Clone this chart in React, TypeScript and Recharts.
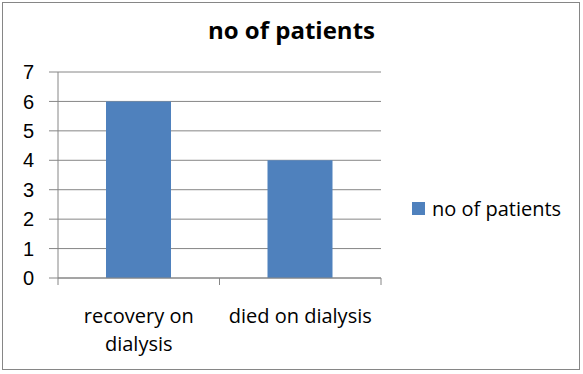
import React from 'react';
import { BarChart, Bar, XAxis, YAxis, CartesianGrid } from 'recharts';

const categories = ['recovery on dialysis', 'died on dialysis'];
const patients = [6, 4];
const yTicks = [0, 1, 2, 3, 4, 5, 6, 7];
const seriesName = 'no of patients';
const chartTitle = 'no of patients';

const data = categories.map((c, i) => ({ category: c, value: patients[i] }));

const GRID = '#868686';
const BAR = '#4F81BD';
const CAT_FONT = '"Open Sans", sans-serif';

function wrap(label: string, max: number): string[] {
  const words = label.split(' ');
  const lines: string[] = [];
  let cur = '';
  for (const w of words) {
    const next = cur ? cur + ' ' + w : w;
    if (next.length > max && cur) {
      lines.push(cur);
      cur = w;
    } else {
      cur = next;
    }
  }
  if (cur) lines.push(cur);
  return lines;
}

const XTick = (props: any) => {
  const { x, y, payload } = props;
  const half = payload && payload.offset ? payload.offset : 0;
  const lines = wrap(String(payload.value), 16);
  return (
    <g>
      {half ? (
        <>
          <line x1={x - half} x2={x - half} y1={y} y2={y + 7} stroke={GRID} />
          <line x1={x + half} x2={x + half} y1={y} y2={y + 7} stroke={GRID} />
        </>
      ) : null}
      {lines.map((l, i) => (
        <text
          key={i}
          x={x}
          y={y + 45 + i * 28}
          textAnchor="middle"
          fontFamily={CAT_FONT}
          fontSize={20}
          fill="#000"
        >
          {l}
        </text>
      ))}
    </g>
  );
};

export default function App() {
  return (
    <div style={{ position: 'absolute', left: 0, top: 0, width: 583, height: 374, background: '#fff' }}>
      <div
        style={{
          position: 'absolute',
          left: 2,
          top: 2,
          width: 576,
          height: 366,
          border: `1px solid ${GRID}`,
        }}
      />
      <div
        style={{
          position: 'absolute',
          left: 0,
          width: 583,
          top: 13,
          textAlign: 'center',
          fontFamily: CAT_FONT,
          fontWeight: 700,
          fontSize: 24,
          lineHeight: 'normal',
          color: '#000',
        }}
      >
        {chartTitle}
      </div>
      <div style={{ position: 'absolute', left: 0, top: 0 }}>
        <BarChart
          width={583}
          height={374}
          data={data}
          margin={{ top: 72, right: 202, bottom: 36, left: 0 }}
        >
          <CartesianGrid vertical={false} stroke={GRID} strokeWidth={1} />
          <XAxis
            dataKey="category"
            height={60}
            axisLine={{ stroke: GRID }}
            tickLine={false}
            tickSize={0}
            tickMargin={0}
            tick={<XTick />}
            interval={0}
          />
          <YAxis
            width={58}
            domain={[0, 7]}
            ticks={yTicks}
            interval={0}
            axisLine={{ stroke: GRID }}
            tickLine={{ stroke: GRID }}
            tickSize={9}
            tickMargin={15}
            tick={{ fill: '#000', fontSize: 20, fontFamily: '"Liberation Sans", Arial, sans-serif' }}
          />
          <Bar dataKey="value" name={seriesName} fill={BAR} barSize={65} isAnimationActive={false} />
        </BarChart>
      </div>
      <div
        style={{
          position: 'absolute',
          left: 412,
          top: 195,
          display: 'flex',
          alignItems: 'center',
          fontFamily: CAT_FONT,
          fontSize: 20,
          lineHeight: 'normal',
          color: '#000',
          whiteSpace: 'nowrap',
        }}
      >
        <span style={{ display: 'inline-block', width: 13, height: 13, background: BAR, marginRight: 7 }} />
        <span>{seriesName}</span>
      </div>
    </div>
  );
}
